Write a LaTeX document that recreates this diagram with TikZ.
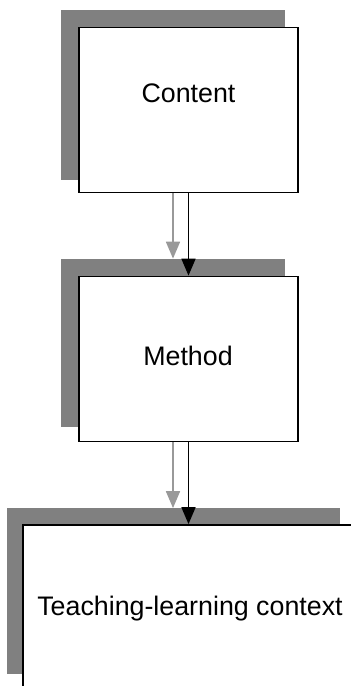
\documentclass[tikz,border=0pt]{standalone}
\usepackage{fontspec}
\setmainfont{Liberation Sans}
\usetikzlibrary{arrows.meta,backgrounds}

\tikzset{
    stage/.style={draw=black, line width=1.8pt, fill=white, inner sep=0pt,
        minimum width=219pt, minimum height=165pt},
    wide stage/.style={stage, minimum width=331pt},
    caption/.style={anchor=base, inner sep=0pt, font=\fontsize{26.8}{30}\selectfont},
    shade/.style={fill=black!50},
    flow/.style={-{Triangle[length=17pt,width=14pt]}, line width=1.8pt},
}

\begin{document}
\begin{tikzpicture}[x=1pt,y=-1pt]
    \useasboundingbox (0,0) rectangle (351,686);
    % boxes
    \node[stage] (content) at (188.5,110) {};
    \node[stage] (method) at (188.5,359) {};
    \node[wide stage] (context) at (188.5,607.5) {};
    % shadows behind the boxes
    \begin{scope}[on background layer]
        \fill[shade] ([shift={(-17,-17)}]content.north west) rectangle ([shift={(-14,-13)}]content.south east);
        \fill[shade] ([shift={(-17,-17)}]method.north west) rectangle ([shift={(-14,-15)}]method.south east);
        \fill[shade] ([shift={(-15,-16)}]context.north west) rectangle ([shift={(-15,-17)}]context.south east);
    \end{scope}
    % texts
    \node[caption] (t1) at (188.5,102) {Content};
    \node[caption] (t2) at (188,365) {Method};
    \node[caption] (t3) at (190,615) {Teaching-learning context};
    % arrows
    \coordinate (m-top) at ([yshift=17pt]method.north);
    \coordinate (c-top) at ([yshift=16pt]context.north);
    \draw[flow, black!40] ([xshift=-15.5pt]content.south) -- ([xshift=-15.5pt]m-top);
    \draw[flow] (content.south) -- (method.north);
    \draw[flow, black!40] ([xshift=-15.5pt]method.south) -- ([xshift=-15.5pt]c-top);
    \draw[flow] (method.south) -- (context.north);
\end{tikzpicture}
\end{document}
